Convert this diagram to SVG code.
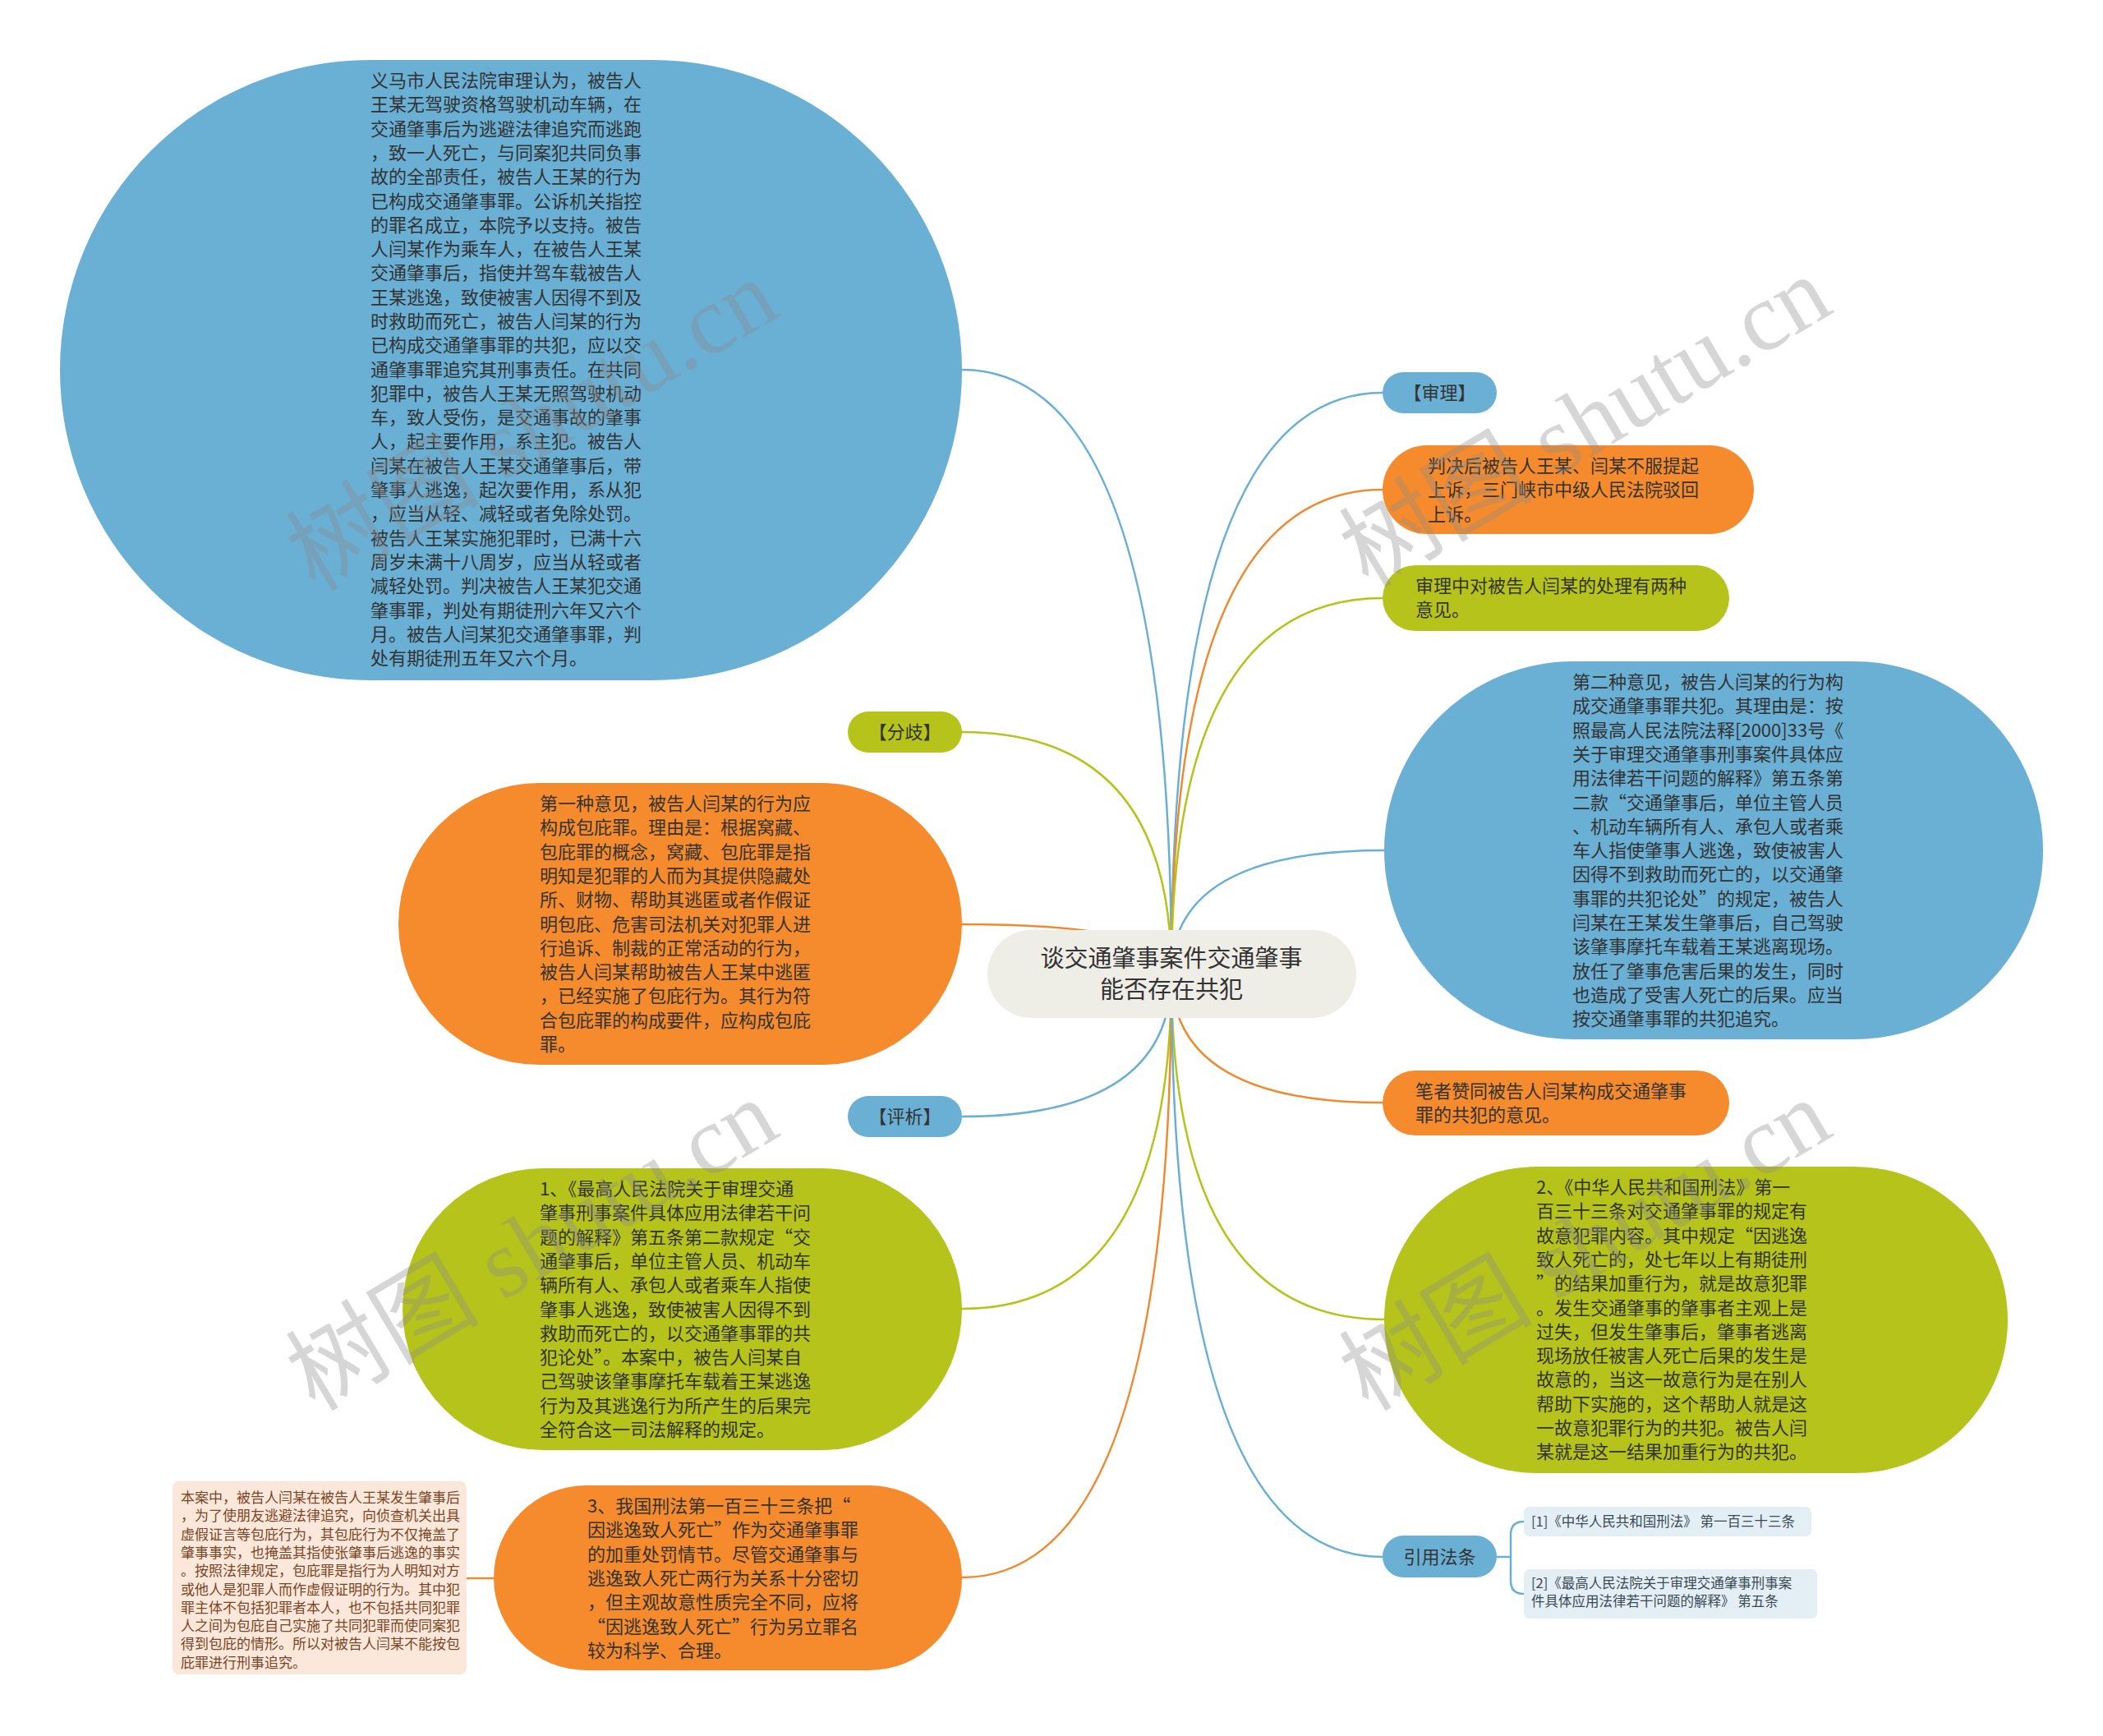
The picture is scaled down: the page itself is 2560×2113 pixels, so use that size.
<svg xmlns="http://www.w3.org/2000/svg" width="2560" height="2113" viewBox="0 0 2560 2113">
<style>
.t{font-family:"Noto Sans CJK SC","Noto Sans",sans-serif;font-size:22px;fill:#333}
.tc{text-anchor:middle}
.blue{fill:#6AAFD4}
.orange{fill:#F58B2C}
.green{fill:#B6C31B}
.c{fill:none;stroke-width:2.5}
.cb{stroke:#6AAFD4}
.co{stroke:#EE8A30}
.cg{stroke:#B6C31B}
.note{font-family:"Noto Sans CJK SC","Noto Sans",sans-serif;font-size:17px;fill:#7A4526}
.cite{font-family:"Noto Sans CJK SC","Noto Sans",sans-serif;font-size:16.5px;fill:#3A4A55}
.wm{font-family:"Liberation Serif","Noto Sans CJK SC",serif;font-size:118px;fill:#8C8C8C;opacity:0.35;text-anchor:middle;dominant-baseline:central}
</style>
<rect width="2560" height="2113" fill="#FFFFFF"/>
<g id="connectors">
<path class="c cb" d="M1426,1185 Q1426,450 1171,450"/>
<path class="c cg" d="M1426,1185 Q1426,891 1171,891"/>
<path class="c co" d="M1426,1185 Q1426,1125 1171,1125"/>
<path class="c cb" d="M1426,1185 Q1426,1359 1171,1359"/>
<path class="c cg" d="M1426,1185 Q1426,1593 1171,1593"/>
<path class="c co" d="M1426,1185 Q1426,1920 1171,1920"/>
<path class="c cb" d="M1426,1185 Q1426,478 1683,478"/>
<path class="c co" d="M1426,1185 Q1426,596 1683,596"/>
<path class="c cg" d="M1426,1185 Q1426,728 1683,728"/>
<path class="c cb" d="M1426,1185 Q1426,1035 1685,1035"/>
<path class="c co" d="M1426,1185 Q1426,1342 1683,1342"/>
<path class="c cg" d="M1426,1185 Q1426,1606 1685,1606"/>
<path class="c cb" d="M1426,1185 Q1426,1895 1683,1895"/>
<path class="c co" d="M568,1921 L601,1921"/>
<path class="c cb" d="M1822,1895 L1839,1895 M1855,1852 Q1839,1852 1839,1868 L1839,1924 Q1839,1940 1855,1940"/>
</g>
<g id="root">
<rect x="1202" y="1132" width="449" height="107" rx="53.5" fill="#EEEDE6"/>
<text class="t tc" x="1426" y="1177" style="font-size:29px">谈交通肇事案件交通肇事<tspan x="1426" dy="38">能否存在共犯</tspan></text>
</g>
<g id="n-court">
<rect class="blue" x="73" y="73" width="1098" height="755" rx="377.5"/>
<text class="t" x="451" y="106"><tspan x="451" dy="0">义马市人民法院审理认为，被告人</tspan><tspan x="451" dy="29.3">王某无驾驶资格驾驶机动车辆，在</tspan><tspan x="451" dy="29.3">交通肇事后为逃避法律追究而逃跑</tspan><tspan x="451" dy="29.3">，致一人死亡，与同案犯共同负事</tspan><tspan x="451" dy="29.3">故的全部责任，被告人王某的行为</tspan><tspan x="451" dy="29.3">已构成交通肇事罪。公诉机关指控</tspan><tspan x="451" dy="29.3">的罪名成立，本院予以支持。被告</tspan><tspan x="451" dy="29.3">人闫某作为乘车人，在被告人王某</tspan><tspan x="451" dy="29.3">交通肇事后，指使并驾车载被告人</tspan><tspan x="451" dy="29.3">王某逃逸，致使被害人因得不到及</tspan><tspan x="451" dy="29.3">时救助而死亡，被告人闫某的行为</tspan><tspan x="451" dy="29.3">已构成交通肇事罪的共犯，应以交</tspan><tspan x="451" dy="29.3">通肇事罪追究其刑事责任。在共同</tspan><tspan x="451" dy="29.3">犯罪中，被告人王某无照驾驶机动</tspan><tspan x="451" dy="29.3">车，致人受伤，是交通事故的肇事</tspan><tspan x="451" dy="29.3">人，起主要作用，系主犯。被告人</tspan><tspan x="451" dy="29.3">闫某在被告人王某交通肇事后，带</tspan><tspan x="451" dy="29.3">肇事人逃逸，起次要作用，系从犯</tspan><tspan x="451" dy="29.3">，应当从轻、减轻或者免除处罚。</tspan><tspan x="451" dy="29.3">被告人王某实施犯罪时，已满十六</tspan><tspan x="451" dy="29.3">周岁未满十八周岁，应当从轻或者</tspan><tspan x="451" dy="29.3">减轻处罚。判决被告人王某犯交通</tspan><tspan x="451" dy="29.3">肇事罪，判处有期徒刑六年又六个</tspan><tspan x="451" dy="29.3">月。被告人闫某犯交通肇事罪，判</tspan><tspan x="451" dy="29.3">处有期徒刑五年又六个月。</tspan></text>
</g>
<g id="n-fenqi">
<rect class="green" x="1032" y="866" width="139" height="50" rx="25"/>
<text class="t tc" x="1101.5" y="899">【分歧】</text>
</g>
<g id="n-opinion1">
<rect class="orange" x="485" y="953" width="686" height="343" rx="171.5"/>
<text class="t" x="657" y="986"><tspan x="657" dy="0">第一种意见，被告人闫某的行为应</tspan><tspan x="657" dy="29.3">构成包庇罪。理由是：根据窝藏、</tspan><tspan x="657" dy="29.3">包庇罪的概念，窝藏、包庇罪是指</tspan><tspan x="657" dy="29.3">明知是犯罪的人而为其提供隐藏处</tspan><tspan x="657" dy="29.3">所、财物、帮助其逃匿或者作假证</tspan><tspan x="657" dy="29.3">明包庇、危害司法机关对犯罪人进</tspan><tspan x="657" dy="29.3">行追诉、制裁的正常活动的行为，</tspan><tspan x="657" dy="29.3">被告人闫某帮助被告人王某中逃匿</tspan><tspan x="657" dy="29.3">，已经实施了包庇行为。其行为符</tspan><tspan x="657" dy="29.3">合包庇罪的构成要件，应构成包庇</tspan><tspan x="657" dy="29.3">罪。</tspan></text>
</g>
<g id="n-pingxi">
<rect class="blue" x="1032" y="1334" width="139" height="50" rx="25"/>
<text class="t tc" x="1101.5" y="1367">【评析】</text>
</g>
<g id="n-analysis1">
<rect class="green" x="490" y="1422" width="681" height="343" rx="171.5"/>
<text class="t" x="657" y="1455"><tspan x="657" dy="0">1、《最高人民法院关于审理交通</tspan><tspan x="657" dy="29.3">肇事刑事案件具体应用法律若干问</tspan><tspan x="657" dy="29.3">题的解释》第五条第二款规定“交</tspan><tspan x="657" dy="29.3">通肇事后，单位主管人员、机动车</tspan><tspan x="657" dy="29.3">辆所有人、承包人或者乘车人指使</tspan><tspan x="657" dy="29.3">肇事人逃逸，致使被害人因得不到</tspan><tspan x="657" dy="29.3">救助而死亡的，以交通肇事罪的共</tspan><tspan x="657" dy="29.3">犯论处”。本案中，被告人闫某自</tspan><tspan x="657" dy="29.3">己驾驶该肇事摩托车载着王某逃逸</tspan><tspan x="657" dy="29.3">行为及其逃逸行为所产生的后果完</tspan><tspan x="657" dy="29.3">全符合这一司法解释的规定。</tspan></text>
</g>
<g id="n-analysis3">
<rect class="orange" x="601" y="1808" width="570" height="225" rx="112.5"/>
<text class="t" x="715" y="1841"><tspan x="715" dy="0">3、我国刑法第一百三十三条把“</tspan><tspan x="715" dy="29.3">因逃逸致人死亡”作为交通肇事罪</tspan><tspan x="715" dy="29.3">的加重处罚情节。尽管交通肇事与</tspan><tspan x="715" dy="29.3">逃逸致人死亡两行为关系十分密切</tspan><tspan x="715" dy="29.3">，但主观故意性质完全不同，应将</tspan><tspan x="715" dy="29.3">“因逃逸致人死亡”行为另立罪名</tspan><tspan x="715" dy="29.3">较为科学、合理。</tspan></text>
</g>
<g id="n-note">
<rect x="210" y="1803" width="358" height="235" rx="8" fill="#FCE8DA"/>
<text class="note" x="220" y="1829"><tspan x="220" dy="0">本案中，被告人闫某在被告人王某发生肇事后</tspan><tspan x="220" dy="22.3">，为了使朋友逃避法律追究，向侦查机关出具</tspan><tspan x="220" dy="22.3">虚假证言等包庇行为，其包庇行为不仅掩盖了</tspan><tspan x="220" dy="22.3">肇事事实，也掩盖其指使张肇事后逃逸的事实</tspan><tspan x="220" dy="22.3">。按照法律规定，包庇罪是指行为人明知对方</tspan><tspan x="220" dy="22.3">或他人是犯罪人而作虚假证明的行为。其中犯</tspan><tspan x="220" dy="22.3">罪主体不包括犯罪者本人，也不包括共同犯罪</tspan><tspan x="220" dy="22.3">人之间为包庇自己实施了共同犯罪而使同案犯</tspan><tspan x="220" dy="22.3">得到包庇的情形。所以对被告人闫某不能按包</tspan><tspan x="220" dy="22.3">庇罪进行刑事追究。</tspan></text>
</g>
<g id="n-shenli">
<rect class="blue" x="1683" y="453" width="139" height="50" rx="25"/>
<text class="t tc" x="1752.5" y="486">【审理】</text>
</g>
<g id="n-appeal">
<rect class="orange" x="1683" y="542" width="452" height="108" rx="54"/>
<text class="t" x="1738" y="575"><tspan x="1738" dy="0">判决后被告人王某、闫某不服提起</tspan><tspan x="1738" dy="29.3">上诉，三门峡市中级人民法院驳回</tspan><tspan x="1738" dy="29.3">上诉。</tspan></text>
</g>
<g id="n-two">
<rect class="green" x="1683" y="688" width="422" height="80" rx="40"/>
<text class="t" x="1723" y="721"><tspan x="1723" dy="0">审理中对被告人闫某的处理有两种</tspan><tspan x="1723" dy="29.3">意见。</tspan></text>
</g>
<g id="n-opinion2">
<rect class="blue" x="1685" y="805" width="802" height="460" rx="230"/>
<text class="t" x="1914" y="838"><tspan x="1914" dy="0">第二种意见，被告人闫某的行为构</tspan><tspan x="1914" dy="29.3">成交通肇事罪共犯。其理由是：按</tspan><tspan x="1914" dy="29.3">照最高人民法院法释[2000]33号《</tspan><tspan x="1914" dy="29.3">关于审理交通肇事刑事案件具体应</tspan><tspan x="1914" dy="29.3">用法律若干问题的解释》第五条第</tspan><tspan x="1914" dy="29.3">二款“交通肇事后，单位主管人员</tspan><tspan x="1914" dy="29.3">、机动车辆所有人、承包人或者乘</tspan><tspan x="1914" dy="29.3">车人指使肇事人逃逸，致使被害人</tspan><tspan x="1914" dy="29.3">因得不到救助而死亡的，以交通肇</tspan><tspan x="1914" dy="29.3">事罪的共犯论处”的规定，被告人</tspan><tspan x="1914" dy="29.3">闫某在王某发生肇事后，自己驾驶</tspan><tspan x="1914" dy="29.3">该肇事摩托车载着王某逃离现场。</tspan><tspan x="1914" dy="29.3">放任了肇事危害后果的发生，同时</tspan><tspan x="1914" dy="29.3">也造成了受害人死亡的后果。应当</tspan><tspan x="1914" dy="29.3">按交通肇事罪的共犯追究。</tspan></text>
</g>
<g id="n-author">
<rect class="orange" x="1683" y="1303" width="422" height="79" rx="39.5"/>
<text class="t" x="1723" y="1336"><tspan x="1723" dy="0">笔者赞同被告人闫某构成交通肇事</tspan><tspan x="1723" dy="29.3">罪的共犯的意见。</tspan></text>
</g>
<g id="n-analysis2">
<rect class="green" x="1685" y="1420" width="759" height="373" rx="186.5"/>
<text class="t" x="1870" y="1453"><tspan x="1870" dy="0">2、《中华人民共和国刑法》第一</tspan><tspan x="1870" dy="29.3">百三十三条对交通肇事罪的规定有</tspan><tspan x="1870" dy="29.3">故意犯罪内容。其中规定“因逃逸</tspan><tspan x="1870" dy="29.3">致人死亡的，处七年以上有期徒刑</tspan><tspan x="1870" dy="29.3">”的结果加重行为，就是故意犯罪</tspan><tspan x="1870" dy="29.3">。发生交通肇事的肇事者主观上是</tspan><tspan x="1870" dy="29.3">过失，但发生肇事后，肇事者逃离</tspan><tspan x="1870" dy="29.3">现场放任被害人死亡后果的发生是</tspan><tspan x="1870" dy="29.3">故意的，当这一故意行为是在别人</tspan><tspan x="1870" dy="29.3">帮助下实施的，这个帮助人就是这</tspan><tspan x="1870" dy="29.3">一故意犯罪行为的共犯。被告人闫</tspan><tspan x="1870" dy="29.3">某就是这一结果加重行为的共犯。</tspan></text>
</g>
<g id="n-law">
<rect class="blue" x="1683" y="1869" width="139" height="51" rx="25.5"/>
<text class="t tc" x="1752.5" y="1903">引用法条</text>
</g>
<g id="n-cite1">
<rect x="1855" y="1834" width="350" height="36" rx="7" fill="#E3EEF5"/>
<text class="cite" x="1864" y="1858">[1]《中华人民共和国刑法》 第一百三十三条</text>
</g>
<g id="n-cite2">
<rect x="1855" y="1910" width="357" height="60" rx="7" fill="#E3EEF5"/>
<text class="cite" x="1864" y="1933"><tspan x="1864" dy="0">[2]《最高人民法院关于审理交通肇事刑事案</tspan><tspan x="1864" dy="22">件具体应用法律若干问题的解释》 第五条</tspan></text>
</g>
<g id="watermarks">
<text class="wm" transform="translate(648,518) rotate(-30.7)">树图 shutu.cn</text>
<text class="wm" transform="translate(1930,514) rotate(-30.7)">树图 shutu.cn</text>
<text class="wm" transform="translate(648,1516) rotate(-30.7)">树图 shutu.cn</text>
<text class="wm" transform="translate(1930,1516) rotate(-30.7)">树图 shutu.cn</text>
</g>
</svg>
